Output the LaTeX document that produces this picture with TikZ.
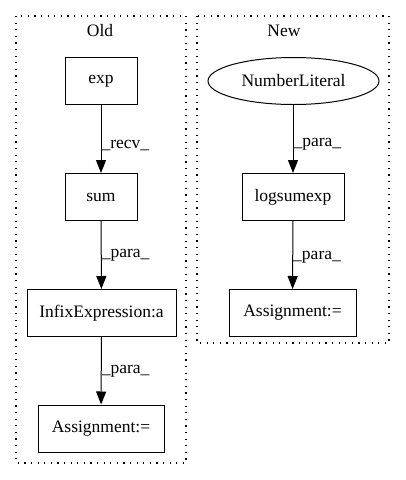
\documentclass[tikz,border=0pt]{standalone}
\usepackage{fontspec}
\setmainfont{Liberation Serif}
\usetikzlibrary{arrows.meta,shapes.geometric}
\begin{document}
\begin{tikzpicture}[x=1pt,y=-1pt,
  every node/.style={font=\fontsize{17.5pt}{20pt}\selectfont, inner sep=0pt},
  box/.style={draw, line width=1pt, minimum height=47pt},
  ell/.style={draw, ellipse, line width=1pt, minimum height=47pt, minimum width=171pt},
  cluster/.style={draw, line width=1.2pt, dash pattern=on 1.2pt off 5.4pt},
  arr/.style={line width=1pt, -{Triangle[length=13pt,width=10pt]}},
  elab/.style={anchor=west}]
\useasboundingbox (0,0) rectangle (405,480);
\draw[cluster] (16,16) rectangle (186,463);
\draw[cluster] (197,16) rectangle (389,343);
\node (oldlab) at (100,31) {Old};
\node (newlab) at (284,31) {New};
\node[box, minimum width=72pt] (exp) at (101,81) {exp};
\node[box, minimum width=72pt] (sum) at (101,197) {sum};
\node[box, minimum width=149pt] (infix) at (101.5,313) {InfixExpression:a};
\node[box, minimum width=126pt] (asg1) at (101,428.5) {Assignment:=};
\node[ell] (num) at (293.5,81) {NumberLiteral};
\node[box, minimum width=102pt] (lse) at (293,197) {logsumexp};
\node[box, minimum width=127pt] (asg2) at (292.5,313) {Assignment:=};
\draw[arr] (exp) -- node[elab, pos=0.6] {\_recv\_} (sum);
\draw[arr] (sum) -- node[elab, pos=0.5] {\_para\_} (infix);
\draw[arr] (infix) -- node[elab, pos=0.5] {\_para\_} (asg1);
\draw[arr] (num.south -| lse.north) -- node[elab, pos=0.57] {\_para\_} (lse);
\draw[arr] (lse) -- node[elab, pos=0.53] {\_para\_} (asg2);
\end{tikzpicture}
\end{document}
